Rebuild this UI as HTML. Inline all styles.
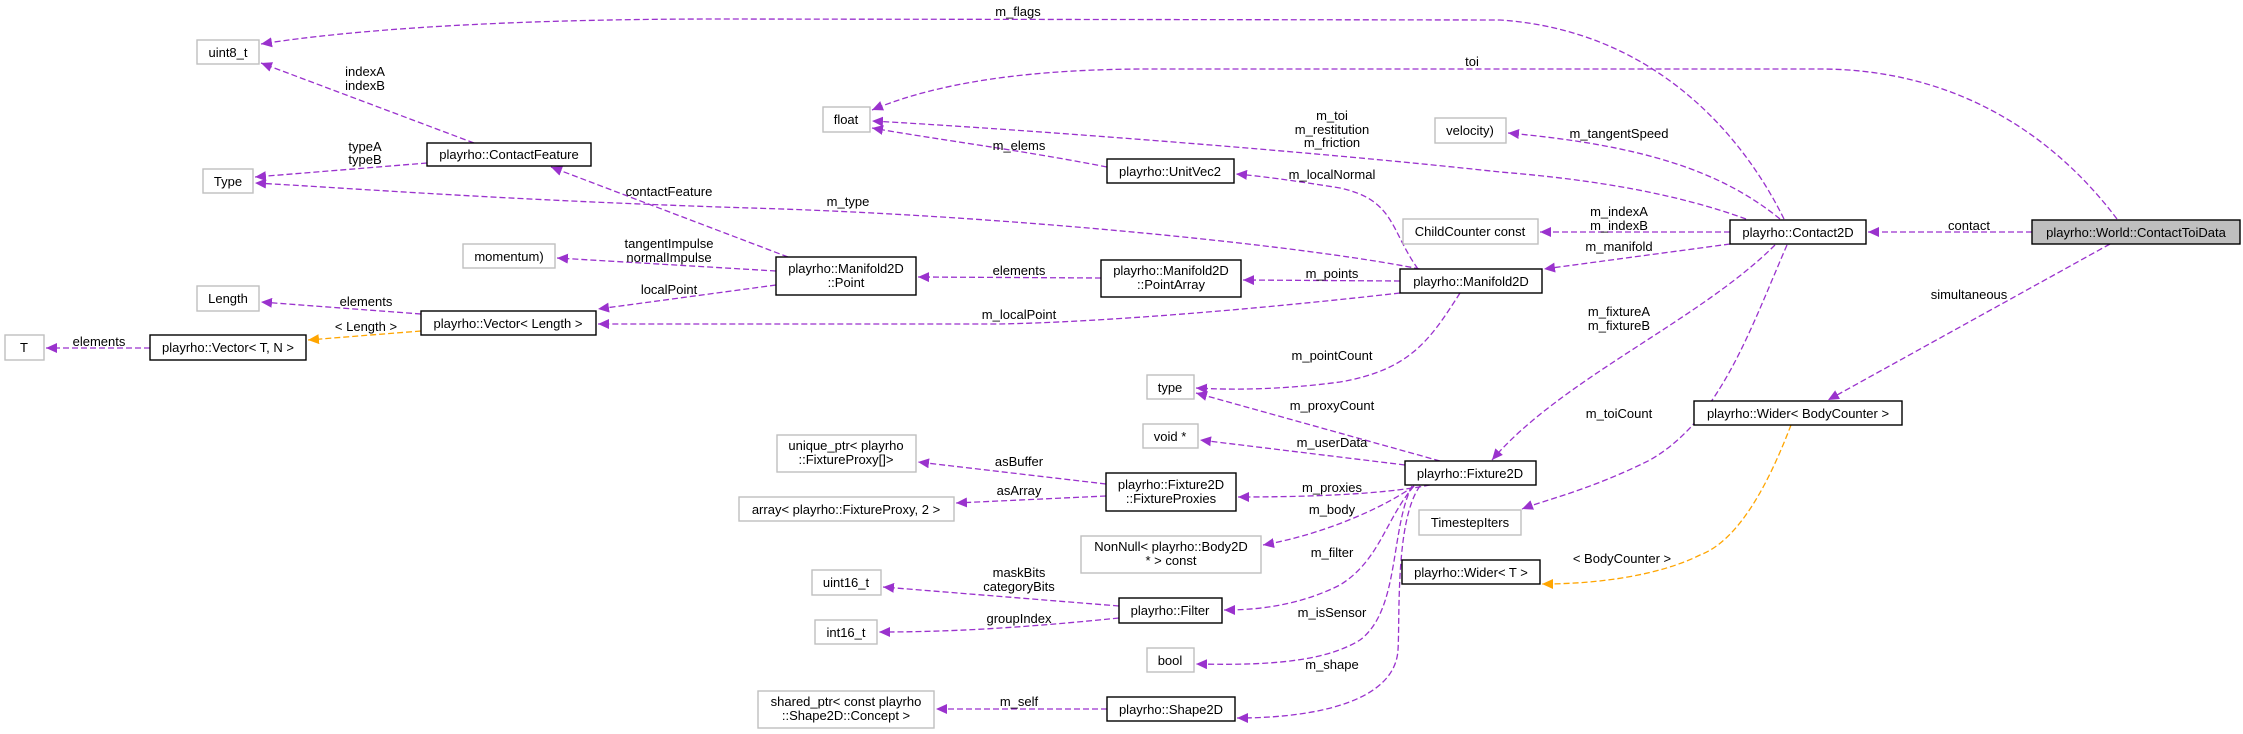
<!DOCTYPE html>
<html><head><meta charset="utf-8"><style>
html,body{margin:0;padding:0;background:#fff;}
svg{display:block;}
text{font-family:"Liberation Sans",Arial,sans-serif;font-size:13px;fill:#000;}
.n{fill:#fff;stroke:#000;stroke-width:1.4;}
.u{fill:#fff;stroke:#bfbfbf;stroke-width:1.4;}
.e{fill:none;stroke:#9a32cd;stroke-width:1.3;stroke-dasharray:6,3;}
.o{fill:none;stroke:#ffa500;stroke-width:1.3;stroke-dasharray:6,3;}
</style></head><body>
<svg width="2243" height="734" viewBox="0 0 2243 734" xmlns="http://www.w3.org/2000/svg">
<defs>
<marker id="a" markerUnits="userSpaceOnUse" markerWidth="12" markerHeight="10" refX="11" refY="5" orient="auto"><path d="M0,0 L11,5 L0,10 z" fill="#9a32cd"/></marker>
<marker id="b" markerUnits="userSpaceOnUse" markerWidth="12" markerHeight="10" refX="11" refY="5" orient="auto"><path d="M0,0 L11,5 L0,10 z" fill="#ffa500"/></marker>
</defs>
<g text-anchor="middle">
<!-- edges -->
<path class="e" marker-end="url(#a)" d="M1784,219 C1740,130 1650,30 1500,20 L720,19 C500,19 350,30 261,44"/>
<path class="e" marker-end="url(#a)" d="M2117,219 C2050,130 1950,69 1820,69 L1150,69 C1000,69 920,90 872,110"/>
<path class="e" marker-end="url(#a)" d="M1746,219 C1680,195 1600,180 1500,172 C1300,150 1000,128 872,121"/>
<path class="e" marker-end="url(#a)" d="M1780,219 C1720,170 1640,145 1508,133"/>
<path class="e" marker-end="url(#a)" d="M1730,232 L1540,232"/>
<path class="e" marker-end="url(#a)" d="M1730,244 L1544,269"/>
<path class="e" marker-end="url(#a)" d="M1775,245 C1700,320 1560,380 1492,460"/>
<path class="e" marker-end="url(#a)" d="M1787,245 C1750,330 1720,420 1650,460 C1590,490 1545,500 1522,509"/>
<path class="e" marker-end="url(#a)" d="M2032,232 L1868,232"/>
<path class="e" marker-end="url(#a)" d="M2110,244 L1828,400"/>
<path class="o" marker-end="url(#b)" d="M1791,425 C1770,480 1740,540 1700,555 C1660,575 1600,584 1542,584"/>
<path class="e" marker-end="url(#a)" d="M474,143 L261,63"/>
<path class="e" marker-end="url(#a)" d="M427,163 L255,177"/>
<path class="e" marker-end="url(#a)" d="M1420,269 C1300,245 1000,215 750,208 C500,200 350,188 255,183"/>
<path class="e" marker-end="url(#a)" d="M788,257 L551,167"/>
<path class="e" marker-end="url(#a)" d="M776,271 L557,258"/>
<path class="e" marker-end="url(#a)" d="M776,285 L598,309"/>
<path class="e" marker-end="url(#a)" d="M1400,293 C1250,310 1100,322 1000,324 L598,324"/>
<path class="e" marker-end="url(#a)" d="M421,314 L261,302"/>
<path class="o" marker-end="url(#b)" d="M421,331 L308,340"/>
<path class="e" marker-end="url(#a)" d="M150,348 L46,348"/>
<path class="e" marker-end="url(#a)" d="M1101,278 L918,277"/>
<path class="e" marker-end="url(#a)" d="M1400,281 L1243,280"/>
<path class="e" marker-end="url(#a)" d="M1107,167 C1020,150 940,140 872,128"/>
<path class="e" marker-end="url(#a)" d="M1418,269 C1390,230 1395,200 1340,188 C1290,180 1260,176 1236,174"/>
<path class="e" marker-end="url(#a)" d="M1460,293 C1430,340 1410,370 1340,382 C1280,390 1230,390 1196,388"/>
<path class="e" marker-end="url(#a)" d="M1440,461 L1196,393"/>
<path class="e" marker-end="url(#a)" d="M1405,465 L1200,440"/>
<path class="e" marker-end="url(#a)" d="M1106,484 L918,462"/>
<path class="e" marker-end="url(#a)" d="M1106,496 L956,503"/>
<path class="e" marker-end="url(#a)" d="M1430,485 C1380,495 1300,497 1238,497"/>
<path class="e" marker-end="url(#a)" d="M1414,486 C1380,510 1320,535 1263,545"/>
<path class="e" marker-end="url(#a)" d="M1414,486 C1385,520 1380,560 1340,585 C1300,605 1260,610 1224,610"/>
<path class="e" marker-end="url(#a)" d="M1412,486 C1390,530 1400,610 1360,640 C1320,665 1250,665 1196,664"/>
<path class="e" marker-end="url(#a)" d="M1420,486 C1395,520 1400,620 1398,650 C1395,700 1320,718 1237,718"/>
<path class="e" marker-end="url(#a)" d="M1119,606 L883,587"/>
<path class="e" marker-end="url(#a)" d="M1119,618 C1020,628 950,632 879,632"/>
<path class="e" marker-end="url(#a)" d="M1107,709 L936,709"/>

<!-- edge labels -->
<text x="1018" y="16">m_flags</text>
<text x="1472" y="66">toi</text>
<text x="1332" y="120">m_toi</text><text x="1332" y="134">m_restitution</text><text x="1332" y="147">m_friction</text>
<text x="1619" y="138">m_tangentSpeed</text>
<text x="1619" y="216">m_indexA</text><text x="1619" y="230">m_indexB</text>
<text x="1619" y="251">m_manifold</text>
<text x="1969" y="230">contact</text>
<text x="1969" y="299">simultaneous</text>
<text x="1619" y="316">m_fixtureA</text><text x="1619" y="330">m_fixtureB</text>
<text x="1619" y="418">m_toiCount</text>
<text x="1622" y="563">&lt; BodyCounter &gt;</text>
<text x="365" y="76">indexA</text><text x="365" y="90">indexB</text>
<text x="365" y="151">typeA</text><text x="365" y="164">typeB</text>
<text x="669" y="196">contactFeature</text>
<text x="669" y="248">tangentImpulse</text><text x="669" y="262">normalImpulse</text>
<text x="669" y="294">localPoint</text>
<text x="366" y="306">elements</text>
<text x="366" y="331">&lt; Length &gt;</text>
<text x="99" y="346">elements</text>
<text x="1019" y="150">m_elems</text>
<text x="1332" y="179">m_localNormal</text>
<text x="848" y="206">m_type</text>
<text x="1019" y="275">elements</text>
<text x="1332" y="278">m_points</text>
<text x="1019" y="319">m_localPoint</text>
<text x="1332" y="360">m_pointCount</text>
<text x="1332" y="410">m_proxyCount</text>
<text x="1332" y="447">m_userData</text>
<text x="1019" y="466">asBuffer</text>
<text x="1019" y="495">asArray</text>
<text x="1332" y="492">m_proxies</text>
<text x="1332" y="514">m_body</text>
<text x="1332" y="557">m_filter</text>
<text x="1019" y="577">maskBits</text><text x="1019" y="591">categoryBits</text>
<text x="1019" y="623">groupIndex</text>
<text x="1332" y="617">m_isSensor</text>
<text x="1332" y="669">m_shape</text>
<text x="1019" y="706">m_self</text>

<!-- nodes -->
<rect class="u" x="197" y="40" width="62" height="24"/><text x="228" y="57">uint8_t</text>
<rect class="u" x="203" y="169" width="50" height="24"/><text x="228" y="186">Type</text>
<rect class="n" x="427" y="143" width="164" height="23"/><text x="509" y="159">playrho::ContactFeature</text>
<rect class="u" x="463" y="244" width="92" height="24"/><text x="509" y="261">momentum)</text>
<rect class="u" x="197" y="286" width="62" height="25"/><text x="228" y="303">Length</text>
<rect class="n" x="421" y="311" width="175" height="24"/><text x="508" y="328">playrho::Vector&lt; Length &gt;</text>
<rect class="u" x="5" y="335" width="39" height="25"/><text x="24" y="352">T</text>
<rect class="n" x="150" y="335" width="156" height="25"/><text x="228" y="352">playrho::Vector&lt; T, N &gt;</text>
<rect class="u" x="823" y="107" width="47" height="25"/><text x="846" y="124">float</text>
<rect class="n" x="1107" y="159" width="127" height="24"/><text x="1170" y="176">playrho::UnitVec2</text>
<rect class="n" x="776" y="257" width="140" height="38"/><text x="846" y="273">playrho::Manifold2D</text><text x="846" y="287">::Point</text>
<rect class="n" x="1101" y="260" width="140" height="37"/><text x="1171" y="275">playrho::Manifold2D</text><text x="1171" y="289">::PointArray</text>
<rect class="n" x="1400" y="269" width="142" height="24"/><text x="1471" y="286">playrho::Manifold2D</text>
<rect class="u" x="1435" y="118" width="71" height="25"/><text x="1470" y="135">velocity)</text>
<rect class="u" x="1403" y="219" width="135" height="25"/><text x="1470" y="236">ChildCounter const</text>
<rect class="n" x="1730" y="220" width="136" height="24"/><text x="1798" y="237">playrho::Contact2D</text>
<rect x="2032" y="220" width="208" height="24" fill="#bfbfbf" stroke="#000" stroke-width="1.4"/><text x="2136" y="237">playrho::World::ContactToiData</text>
<rect class="u" x="1147" y="375" width="47" height="24"/><text x="1170" y="392">type</text>
<rect class="u" x="1143" y="424" width="55" height="24"/><text x="1170" y="441">void *</text>
<rect class="u" x="777" y="435" width="139" height="37"/><text x="846" y="450">unique_ptr&lt; playrho</text><text x="846" y="464">::FixtureProxy[]&gt;</text>
<rect class="u" x="739" y="497" width="215" height="24"/><text x="846" y="514">array&lt; playrho::FixtureProxy, 2 &gt;</text>
<rect class="n" x="1106" y="473" width="130" height="38"/><text x="1171" y="489">playrho::Fixture2D</text><text x="1171" y="503">::FixtureProxies</text>
<rect class="n" x="1405" y="461" width="131" height="24"/><text x="1470" y="478">playrho::Fixture2D</text>
<rect class="u" x="1419" y="510" width="102" height="25"/><text x="1470" y="527">TimestepIters</text>
<rect class="n" x="1402" y="560" width="138" height="24"/><text x="1471" y="577">playrho::Wider&lt; T &gt;</text>
<rect class="n" x="1694" y="401" width="208" height="24"/><text x="1798" y="418">playrho::Wider&lt; BodyCounter &gt;</text>
<rect class="u" x="1081" y="536" width="180" height="37"/><text x="1171" y="551">NonNull&lt; playrho::Body2D</text><text x="1171" y="565">* &gt; const</text>
<rect class="u" x="812" y="570" width="69" height="25"/><text x="846" y="587">uint16_t</text>
<rect class="u" x="815" y="620" width="62" height="24"/><text x="846" y="637">int16_t</text>
<rect class="n" x="1119" y="598" width="103" height="25"/><text x="1170" y="615">playrho::Filter</text>
<rect class="u" x="1147" y="648" width="47" height="24"/><text x="1170" y="665">bool</text>
<rect class="u" x="758" y="691" width="176" height="37"/><text x="846" y="706">shared_ptr&lt; const playrho</text><text x="846" y="720">::Shape2D::Concept &gt;</text>
<rect class="n" x="1107" y="697" width="128" height="24"/><text x="1171" y="714">playrho::Shape2D</text>
</g>
</svg>
</body></html>
